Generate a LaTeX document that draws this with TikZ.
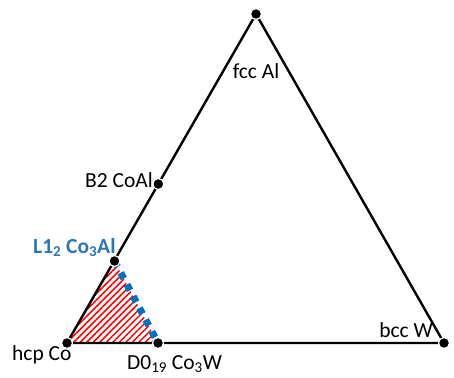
\documentclass[tikz,border=0pt]{standalone}
\usepackage{fontspec}
\setmainfont{Carlito}
\usetikzlibrary{patterns.meta}
\definecolor{lblue}{RGB}{46,117,182}
\definecolor{dblue}{RGB}{0,112,192}
\tikzset{
  vdot/.style={circle,fill=black,draw=white,line width=1.2pt,inner sep=0pt,minimum size=11pt},
  edge/.style={line width=2.4pt,black},
  lbl/.style={font=\fontsize{21.5}{24}\selectfont,inner sep=0pt},
}
\begin{document}
\begin{tikzpicture}[x=1pt,y=-1pt]
\useasboundingbox (0,0) rectangle (454,377);
\coordinate (top) at (256,14);
\coordinate (hcp) at (67,343);
\coordinate (bcc) at (444,343);
\coordinate (b2) at (158.3,184);
\coordinate (l12) at (114.5,261);
\coordinate (d0) at (158,343);
% hatched region
\path[pattern={Lines[angle=45,distance=4.6pt,line width=1.5pt]},pattern color=red]
  (hcp) -- (l12) -- (d0) -- cycle;
% triangle
\draw[edge,line join=round] (hcp) -- (top) -- (bcc) -- cycle;
% dotted blue line
\draw[dblue,line width=7pt,dash pattern=on 6.5pt off 6.8pt] (l12) -- (d0);
% dots
\foreach \p in {top,hcp,bcc,b2,l12,d0} \node[vdot] (n\p) at (\p) {};
% labels
\node[lbl,anchor=base] (tfcc) at (256,78) {fcc Al};
\node[lbl,anchor=base east] (tb2) at (153,187) {B2 CoAl};
\node[lbl,anchor=base west,text=lblue,font=\fontsize{21.5}{24}\selectfont\bfseries] (tl12) at (33,253) {L1\textsubscript{2} Co\textsubscript{3}Al};
\node[lbl,anchor=base west] (thcp) at (12,360) {hcp Co};
\node[lbl,anchor=base west] (td0) at (127,369) {D0\textsubscript{19} Co\textsubscript{3}W};
\node[lbl,anchor=base east] (tbcc) at (433,337) {bcc W};
\end{tikzpicture}
\end{document}
